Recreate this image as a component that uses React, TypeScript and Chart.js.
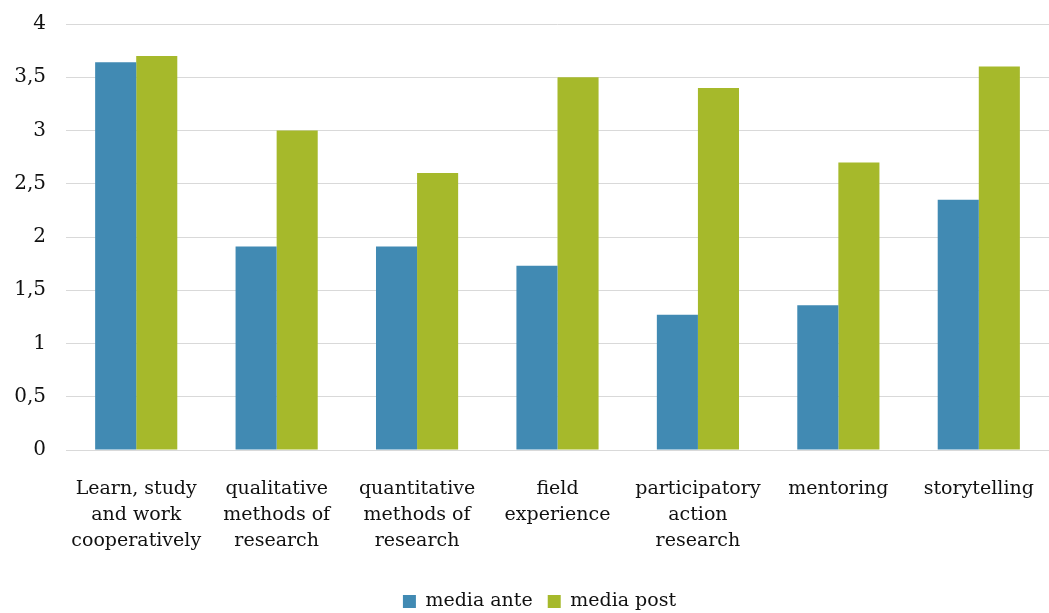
import React, { useEffect, useRef } from "react";
import { Chart, registerables } from "chart.js";

Chart.register(...registerables);

const categories: string[][] = [
  ["Learn, study", "and work", "cooperatively"],
  ["qualitative", "methods of", "research"],
  ["quantitative", "methods of", "research"],
  ["field", "experience"],
  ["participatory", "action", "research"],
  ["mentoring"],
  ["storytelling"],
];
const mediaAnte = [3.64, 1.91, 1.91, 1.73, 1.27, 1.36, 2.35];
const mediaPost = [3.7, 3.0, 2.6, 3.5, 3.4, 2.7, 3.6];
const seriesNames = ["media ante", "media post"];
const yTicks = [0, 0.5, 1, 1.5, 2, 2.5, 3, 3.5, 4];

const FONT = "'DejaVu Serif', serif";

const shiftLegend = {
  id: "shiftLegend",
  afterLayout(chart: any) {
    const lg = chart.legend;
    if (lg) {
      lg.left += 15;
      lg.right += 15;
    }
  },
};

export default function App() {
  const ref = useRef<HTMLCanvasElement | null>(null);
  useEffect(() => {
    if (!ref.current) return;
    const chart = new Chart(ref.current, {
      type: "bar",
      data: {
        labels: categories,
        datasets: [
          {
            label: seriesNames[0],
            data: mediaAnte,
            backgroundColor: "#418ab3",
            borderWidth: 0,
            categoryPercentage: 0.585,
            barPercentage: 1,
          },
          {
            label: seriesNames[1],
            data: mediaPost,
            backgroundColor: "#a6b92b",
            borderWidth: 0,
            categoryPercentage: 0.585,
            barPercentage: 1,
          },
        ],
      },
      plugins: [shiftLegend],
      options: {
        animation: false,
        responsive: false,
        maintainAspectRatio: false,
        layout: { padding: { top: 24, right: 0, left: 0, bottom: 0 } },
        plugins: {
          tooltip: { enabled: false },
          legend: {
            position: "bottom",
            labels: {
              font: { family: FONT, size: 19 },
              color: "#111",
              boxWidth: 13,
              boxHeight: 13,
              padding: 15,
            },
          },
        },
        scales: {
          x: {
            grid: { display: false },
            border: { display: true, color: "#d9d9d9", width: 1 },
            ticks: {
              font: { family: FONT, size: 19, lineHeight: 1.37 },
              color: "#111",
              maxRotation: 0,
              autoSkip: false,
              padding: 18,
            },
            afterFit: (s: any) => {
              s.height = 127;
              s.paddingLeft = 0;
              s.paddingRight = 0;
            },
          },
          y: {
            min: 0,
            max: 4,
            afterBuildTicks: (s: any) => {
              s.ticks = yTicks.map((v) => ({ value: v }));
            },
            grid: { color: "#d9d9d9", lineWidth: 1, drawTicks: false },
            border: { display: false },
            ticks: {
              font: { family: FONT, size: 20 },
              color: "#111",
              padding: 20,
              callback: (v: any) => String(v).replace(".", ","),
            },
            afterFit: (s: any) => {
              s.width = 66;
              s.paddingTop = 0;
              s.paddingBottom = 0;
            },
          },
        },
      },
    });
    return () => chart.destroy();
  }, []);
  return (
    <div style={{ position: "fixed", left: 0, top: 0, width: 1049, height: 613, overflow: "hidden", background: "#fff" }}>
      <canvas ref={ref} width={1049} height={621} style={{ display: "block" }} />
    </div>
  );
}
